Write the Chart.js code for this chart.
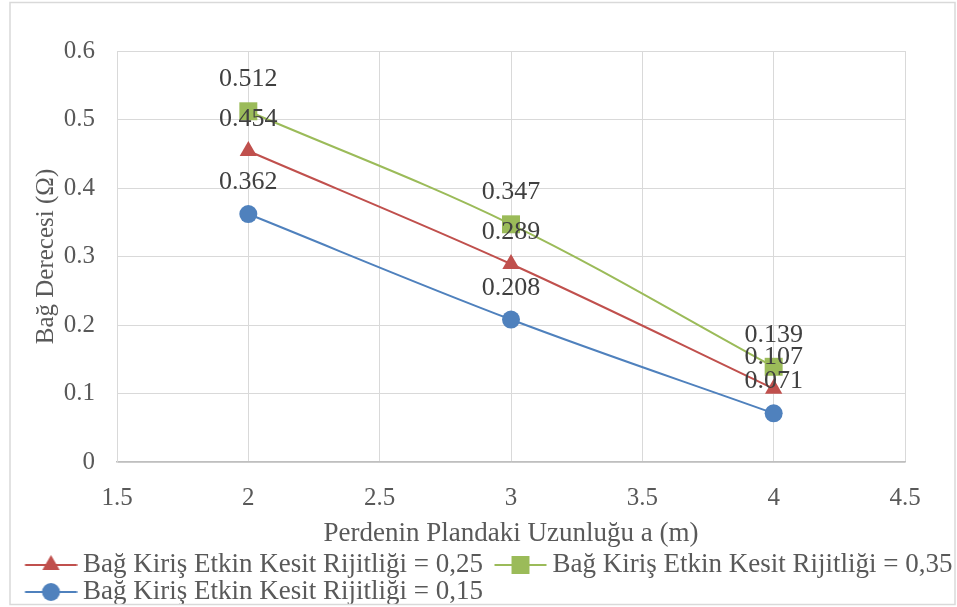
<!DOCTYPE html>
<html>
<head>
<meta charset="utf-8">
<script src="https://cdn.jsdelivr.net/npm/chart.js@4"></script>
<style>
    html, body { margin: 0; padding: 0; background: #fff; }
    #wrap { position: relative; width: 957px; height: 607px; }
</style>
</head>
<body>
<div id="wrap"><canvas id="chart"></canvas></div>
<script>
// Data
const wallLengths = [2, 3, 4];
const rigidity025 = [0.454, 0.289, 0.107];
const rigidity035 = [0.512, 0.347, 0.139];
const rigidity015 = [0.362, 0.208, 0.071];
const seriesNames = [
    'Bağ Kiriş Etkin Kesit Rijitliği = 0,25',
    'Bağ Kiriş Etkin Kesit Rijitliği = 0,35',
    'Bağ Kiriş Etkin Kesit Rijitliği = 0,15'
];
const xAxisRange = [1.5, 4.5, 0.5];
const yAxisRange = [0, 0.6, 0.1];
const xTitle = 'Perdenin Plandaki Uzunluğu a (m)';
const yTitle = 'Bağ Derecesi (Ω)';

const FONT = '"Liberation Serif", "Times New Roman", serif';
const TEXT = '#595959';

const styles = [
    { color: '#C0504D', shape: 'triangle', radius: 10 },
    { color: '#9BBB59', shape: 'rect', radius: 12.7 },
    { color: '#4F81BD', shape: 'circle', radius: 9 }
];

// line + marker images for the legend (line sits on the right half of the image)
function legendIcon(st) {
    const c = document.createElement('canvas');
    c.width = 72; c.height = 24;
    const g = c.getContext('2d');
    g.strokeStyle = st.color; g.fillStyle = st.color; g.lineWidth = 2;
    g.beginPath(); g.moveTo(19.5, 12); g.lineTo(71.5, 12); g.stroke();
    const r = st.radius, cx = 45.5, cy = 12;
    g.beginPath();
    if (st.shape === 'triangle') {
        g.moveTo(cx, cy - r);
        g.lineTo(cx + r * 0.866, cy + r * 0.5);
        g.lineTo(cx - r * 0.866, cy + r * 0.5);
        g.closePath();
    } else if (st.shape === 'rect') {
        const s = r * Math.SQRT1_2;
        g.rect(cx - s, cy - s, 2 * s, 2 * s);
    } else {
        g.arc(cx, cy, r, 0, Math.PI * 2);
    }
    g.fill();
    return c;
}

function toPoints(ys) {
    return ys.map((y, i) => ({ x: wallLengths[i], y: y }));
}

const seriesValues = [rigidity025, rigidity035, rigidity015];
const datasets = seriesValues.map((vals, i) => ({
    label: seriesNames[i],
    data: toPoints(vals),
    showLine: true,
    borderColor: styles[i].color,
    backgroundColor: styles[i].color,
    borderWidth: 2,
    tension: 0.35,
    pointStyle: styles[i].shape,
    pointRadius: styles[i].radius,
    pointHoverRadius: styles[i].radius,
    pointBorderWidth: 0
}));

const valueLabels = {
    id: 'valueLabels',
    afterDatasetsDraw(chart) {
        const ctx = chart.ctx;
        ctx.save();
        ctx.font = '26px ' + FONT;
        ctx.fillStyle = '#404040';
        ctx.textAlign = 'center';
        ctx.textBaseline = 'alphabetic';
        chart.data.datasets.forEach((ds, i) => {
            chart.getDatasetMeta(i).data.forEach((pt, j) => {
                ctx.fillText(String(seriesValues[i][j]), pt.x, pt.y - 25);
            });
        });
        ctx.restore();
    }
};

const frame = {
    id: 'frame',
    afterDraw(chart) {
        const ctx = chart.ctx;
        ctx.save();
        ctx.strokeStyle = '#d9d9d9';
        ctx.lineWidth = 1.5;
        ctx.strokeRect(10, 2.5, 945, 602);
        ctx.restore();
    }
};

new Chart(document.getElementById('chart'), {
    type: 'scatter',
    data: { datasets },
    plugins: [valueLabels, frame],
    options: {
        responsive: true,
        maintainAspectRatio: false,
        animation: false,
        layout: { padding: { left: 13.5, top: 51, right: 0, bottom: -8.5 } },
        plugins: {
            tooltip: { enabled: false },
            legend: {
                position: 'bottom',
                align: 'start',
                labels: {
                    usePointStyle: true,
                    pointStyleWidth: 56,
                    padding: 0,
                    color: TEXT,
                    font: { family: FONT, size: 27 },
                    generateLabels: (chart) => chart.data.datasets.map((ds, i) => ({
                        text: ds.label,
                        pointStyle: legendIcon(styles[i]),
                        fillStyle: styles[i].color,
                        strokeStyle: styles[i].color,
                        lineWidth: 0,
                        fontColor: TEXT,
                        hidden: false,
                        datasetIndex: i
                    }))
                }
            }
        },
        scales: {
            x: {
                type: 'linear',
                min: xAxisRange[0],
                max: xAxisRange[1],
                afterFit: (s) => { s.height = 89.5; },
                ticks: {
                    stepSize: xAxisRange[2],
                    padding: 21,
                    color: TEXT,
                    font: { family: FONT, size: 25 },
                    callback: (v) => String(v)
                },
                grid: { color: '#d9d9d9', drawTicks: false },
                border: { color: '#bfbfbf', width: 1.5 },
                title: {
                    display: true,
                    text: xTitle,
                    color: TEXT,
                    font: { family: FONT, size: 27 },
                    padding: { top: 0, bottom: 1 }
                }
            },
            y: {
                min: yAxisRange[0],
                max: yAxisRange[1],
                afterFit: (s) => { s.width = 103.5; },
                ticks: {
                    stepSize: yAxisRange[2],
                    padding: 22,
                    color: TEXT,
                    font: { family: FONT, size: 25 },
                    callback: (v) => String(Math.round(v * 10) / 10)
                },
                grid: { color: '#d9d9d9', drawTicks: false },
                border: { color: '#d9d9d9' },
                title: {
                    display: true,
                    text: yTitle,
                    color: TEXT,
                    font: { family: FONT, size: 25 },
                    padding: { top: 18, bottom: 0 }
                }
            },
            // empty spacer on the right so the plot ends where the reference does
            spacer: {
                type: 'linear',
                position: 'right',
                afterFit: (s) => { s.width = 52; },
                ticks: { display: false },
                grid: { display: false, drawTicks: false },
                border: { display: false }
            }
        }
    }
});
</script>
</body>
</html>
